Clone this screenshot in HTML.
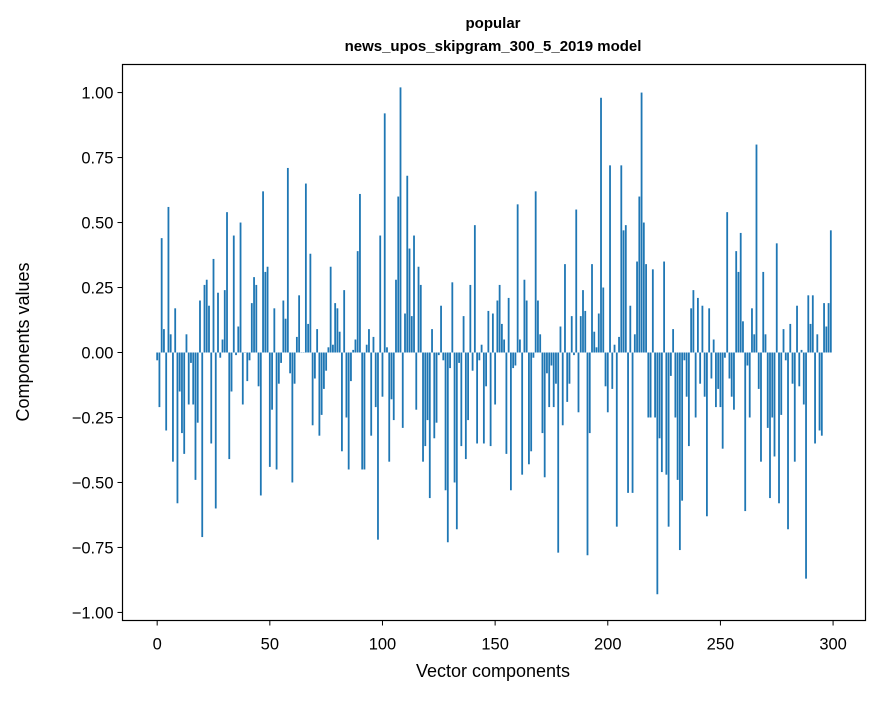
<!DOCTYPE html>
<html><head><meta charset="utf-8"><style>
html,body{margin:0;padding:0;background:#fff;}
svg text{font-family:"Liberation Sans","DejaVu Sans",sans-serif;fill:#000;}
</style></head><body>
<svg id="chart" width="880" height="696" viewBox="0 0 880 696" xmlns="http://www.w3.org/2000/svg">
<rect x="0" y="0" width="880" height="696" fill="#fff"/>
<text x="493" y="28" text-anchor="middle" font-size="15" font-weight="bold">popular</text>
<text x="493" y="51" text-anchor="middle" font-size="15" font-weight="bold">news_upos_skipgram_300_5_2019 model</text>
<g id="bars"></g>
<g id="xticks"></g>
<g id="yticks"></g>
<rect x="122.5" y="64.5" width="743" height="556" fill="none" stroke="#000" stroke-width="1.2"/>
<text x="493" y="677" text-anchor="middle" font-size="18">Vector components</text>
<text transform="translate(29,342) rotate(-90)" text-anchor="middle" font-size="18">Components values</text>
</svg>
<script>
const values = [
-0.03,-0.21,0.44,0.09,-0.30,0.56,0.07,-0.42,0.17,-0.58,
-0.15,-0.31,-0.39,0.07,-0.20,-0.04,-0.20,-0.49,-0.27,0.20,
-0.71,0.26,0.28,0.18,-0.35,0.36,-0.60,0.23,-0.02,0.05,
0.24,0.54,-0.41,-0.15,0.45,-0.01,0.10,0.50,-0.20,0.00,
-0.11,-0.03,0.19,0.29,0.26,-0.13,-0.55,0.62,0.31,0.33,
-0.44,-0.22,0.17,-0.45,-0.12,-0.04,0.20,0.13,0.71,-0.08,
-0.50,-0.12,0.06,0.22,0.00,0.00,0.65,0.11,0.38,-0.28,
-0.10,0.09,-0.32,-0.24,-0.14,-0.07,0.02,0.33,0.03,0.19,
0.17,0.08,-0.38,0.24,-0.25,-0.45,-0.11,0.01,0.05,0.39,
0.61,-0.45,-0.45,0.03,0.09,-0.32,0.06,-0.21,-0.72,0.45,
-0.17,0.92,0.02,-0.42,-0.18,-0.26,0.28,0.60,1.02,-0.29,
0.15,0.68,0.40,0.14,0.45,-0.22,0.33,0.26,-0.42,-0.36,
-0.26,-0.56,0.09,-0.33,-0.27,-0.01,0.18,-0.03,-0.53,-0.73,
-0.06,0.27,-0.50,-0.68,-0.04,-0.36,0.14,-0.41,-0.26,0.26,
-0.07,0.49,-0.35,-0.03,0.03,-0.35,-0.13,0.16,-0.36,0.15,
-0.20,0.20,0.26,0.11,0.05,-0.39,0.21,-0.53,-0.06,-0.05,
0.57,0.05,-0.47,0.28,0.20,-0.43,-0.38,-0.02,0.62,0.20,
0.07,-0.31,-0.48,-0.08,-0.21,-0.05,-0.21,-0.12,-0.77,0.10,
-0.28,0.34,-0.19,-0.12,0.14,-0.01,0.55,-0.23,0.14,0.24,
0.16,-0.78,-0.31,0.34,0.08,0.02,0.15,0.98,0.25,-0.13,
-0.23,0.72,-0.14,0.03,-0.67,0.06,0.72,0.47,0.49,-0.54,
0.18,-0.54,0.07,0.35,0.60,1.00,0.50,0.34,-0.25,-0.25,
0.32,-0.25,-0.93,-0.33,-0.46,0.35,-0.47,-0.67,-0.09,0.09,
-0.25,-0.49,-0.76,-0.57,-0.03,-0.17,-0.36,0.17,0.24,-0.25,
0.21,-0.12,0.18,-0.17,-0.63,0.17,-0.10,0.05,-0.21,-0.14,
-0.21,-0.37,-0.02,0.54,-0.10,-0.17,-0.22,0.39,0.31,0.46,
0.12,-0.61,-0.05,-0.25,0.17,0.07,0.80,-0.14,-0.42,0.31,
0.07,-0.29,-0.56,-0.25,-0.40,0.42,-0.58,-0.24,0.09,-0.03,
-0.68,0.11,-0.12,-0.42,0.18,-0.13,0.01,-0.20,-0.87,0.22,
0.11,0.22,-0.35,0.07,-0.30,-0.32,0.19,0.10,0.19,0.47
];
const xTickLabels = [0,50,100,150,200,250,300];
const yTickLabels = [-1.00,-0.75,-0.50,-0.25,0.00,0.25,0.50,0.75,1.00];

const X0 = 122.5, X1 = 865.5, Y0 = 64.5, Y1 = 620.5;
const xMin = -15.39, xMax = 314.39, yMin = -1.031, yMax = 1.108;
function xs(v){ return X0 + (v - xMin) / (xMax - xMin) * (X1 - X0); }
function ys(v){ return Y1 - (v - yMin) / (yMax - yMin) * (Y1 - Y0); }
const NS = "http://www.w3.org/2000/svg";
const barsG = document.getElementById('bars');
values.forEach(function(v, i){
  const r = document.createElementNS(NS, 'rect');
  const xa = xs(i - 0.4), xb = xs(i + 0.4);
  const ya = ys(Math.max(v, 0)), yb = ys(Math.min(v, 0));
  r.setAttribute('x', xa);
  r.setAttribute('width', xb - xa);
  r.setAttribute('y', ya);
  r.setAttribute('height', Math.max(yb - ya, 0.3));
  r.setAttribute('fill', '#1f77b4');
  
  
  barsG.appendChild(r);
});
const xg = document.getElementById('xticks');
xTickLabels.forEach(function(t){
  const x = xs(t);
  const l = document.createElementNS(NS, 'line');
  l.setAttribute('x1', x); l.setAttribute('x2', x);
  l.setAttribute('y1', Y1); l.setAttribute('y2', Y1 + 5);
  l.setAttribute('stroke', '#000'); l.setAttribute('stroke-width', '1');
  
  
  xg.appendChild(l);
  const tx = document.createElementNS(NS, 'text');
  tx.setAttribute('x', x); tx.setAttribute('y', Y1 + 29);
  tx.setAttribute('text-anchor', 'middle'); tx.setAttribute('font-size', '16.5');
  tx.textContent = String(t);
  
  
  xg.appendChild(tx);
});
const yg = document.getElementById('yticks');
yTickLabels.forEach(function(t){
  const y = ys(t);
  const l = document.createElementNS(NS, 'line');
  l.setAttribute('x1', X0 - 5); l.setAttribute('x2', X0);
  l.setAttribute('y1', y); l.setAttribute('y2', y);
  l.setAttribute('stroke', '#000'); l.setAttribute('stroke-width', '1');
  
  
  yg.appendChild(l);
  const tx = document.createElementNS(NS, 'text');
  tx.setAttribute('x', X0 - 9); tx.setAttribute('y', y + 6);
  tx.setAttribute('text-anchor', 'end'); tx.setAttribute('font-size', '16.5');
  tx.textContent = (t < 0 ? '\u2212' : '') + Math.abs(t).toFixed(2);
  
  
  yg.appendChild(tx);
});
</script>
</body></html>
